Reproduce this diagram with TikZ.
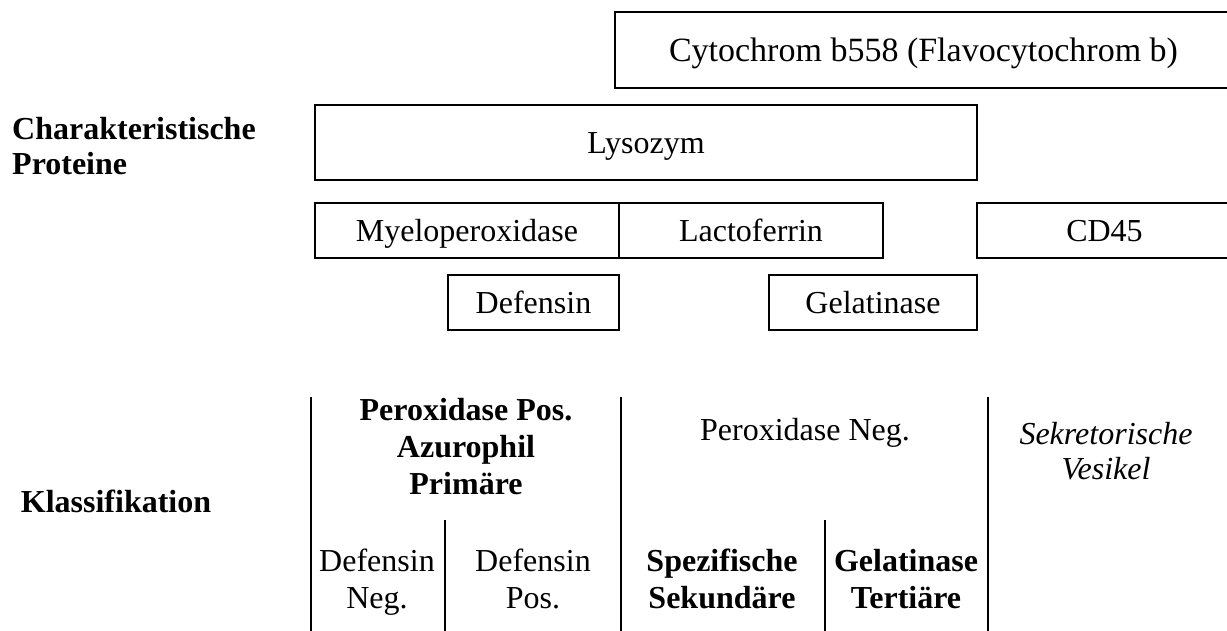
\documentclass[tikz,border=0pt]{standalone}
\usepackage{fontspec}
\setmainfont{Liberation Serif}
\begin{document}
\begin{tikzpicture}[x=1pt,y=-1pt,
  box/.style={draw, line width=2pt, inner sep=0pt, text height=24pt, text depth=2pt, font=\fontsize{32}{38}\selectfont},
  lbl/.style={inner sep=0pt, align=center, font=\fontsize{32}{37}\selectfont},
  sep/.style={line width=2pt}]
\useasboundingbox (0,0) rectangle (1227,631);
% protein boxes
\node[box, minimum width=617pt, minimum height=76pt, text height=25.5pt, text depth=2pt, font=\fontsize{34}{40}\selectfont] (cyt) at (923.5,50) {Cytochrom b558 (Flavocytochrom b)};
\node[box, minimum width=662pt, minimum height=75pt] (lys) at (646,143) {Lysozym};
\node[box, minimum width=304pt, minimum height=55pt] (mye) at (467,230.5) {Myeloperoxidase};
\node[box, minimum width=264pt, minimum height=55pt] (lac) at (751,230.5) {Lactoferrin};
\node[box, minimum width=255pt, minimum height=55pt] (cd) at (1104.5,230.5) {CD45};
\node[box, minimum width=171pt, minimum height=55pt] (def) at (533.5,302.5) {Defensin};
\node[box, minimum width=208pt, minimum height=55pt] (gel) at (873,302.5) {Gelatinase};
% row labels
\node[lbl, anchor=west, align=left, font=\fontsize{32}{35}\bfseries] (cp) at (12,146) {Charakteristische\\Proteine};
\node[lbl, font=\fontsize{32}{36}\bfseries] (kl) at (116,501) {Klassifikation};
% separators
\coordinate (a1) at (311,397); \coordinate (a2) at (311,631);
\coordinate (b1) at (621,397); \coordinate (b2) at (621,631);
\coordinate (c1) at (988,397); \coordinate (c2) at (988,631);
\coordinate (d1) at (445,520); \coordinate (d2) at (445,631);
\coordinate (e1) at (825,520); \coordinate (e2) at (825,631);
\draw[sep] (a1) -- (a2);
\draw[sep] (b1) -- (b2);
\draw[sep] (c1) -- (c2);
\draw[sep] (d1) -- (d2);
\draw[sep] (e1) -- (e2);
% classification texts
\node[lbl, font=\fontsize{32}{37}\bfseries] (pp) at (466,447) {Peroxidase Pos.\\Azurophil\\Primäre};
\node[lbl] (pn) at (805,433) {Peroxidase Neg.};
\node[lbl, font=\fontsize{32}{35}\itshape] (sv) at (1106,451) {Sekretorische\\Vesikel};
\node[lbl, text depth=7pt] (dn) at (377,582) {Defensin\\Neg.};
\node[lbl, text depth=7pt] (dp) at (533,582) {Defensin\\Pos.};
\node[lbl, text depth=7pt, font=\fontsize{32}{37}\bfseries] (ss) at (722,582) {Spezifische\\Sekundäre};
\node[lbl, text depth=7pt, font=\fontsize{32}{37}\bfseries] (gt) at (906,582) {Gelatinase\\Tertiäre};
\end{tikzpicture}
\end{document}
